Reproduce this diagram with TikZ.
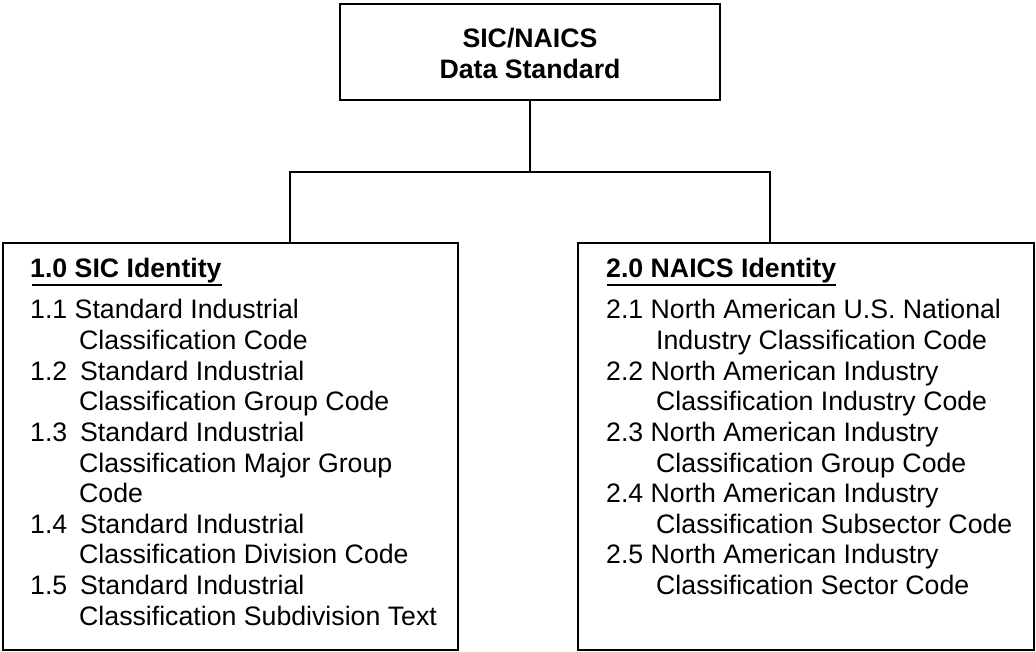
\documentclass[tikz,border=0pt]{standalone}
\usepackage{fontspec}
\setmainfont{Liberation Sans}
\begin{document}
\begin{tikzpicture}[x=1pt,y=-1pt,
  frame/.style={draw=black,line width=1.6pt,inner sep=0pt},
  wire/.style={draw=black,line width=1.6pt},
  txt/.style={anchor=base west,inner sep=0pt,font=\fontsize{26.7}{30.6}\selectfont},
  head/.style={txt,font=\fontsize{26.7}{30.6}\selectfont\bfseries},
  rule/.style={draw=black,line width=2.4pt}]
\useasboundingbox (0,0) rectangle (1036,652);

% boxes
\node[frame,minimum width=380pt,minimum height=96pt] (top) at (530,52) {};
\node[frame,minimum width=455pt,minimum height=407pt] (left) at (230.5,446.5) {};
\node[frame,minimum width=456pt,minimum height=407pt] (right) at (806,446.5) {};

% tree connectors
\coordinate (j)  at (530,172);
\coordinate (jl) at (290,172);
\coordinate (jr) at (770,172);
\draw[wire] (top.south) -- (j);
\draw[wire] (jl |- left.north) -- (jl) -- (jr) -- (jr |- right.north);

% root title
\node[head,anchor=base] (t1) at (530,48) {SIC/NAICS};
\node[head,anchor=base] (t2) at (530,79) {Data Standard};

% SIC column
\newcommand{\num}[1]{\makebox[50pt][l]{#1}}
\node[head] (sh) at (30,278) {1.0 SIC Identity};
\draw[rule] ([xshift=2pt,yshift=-7pt]sh.base west) -- ([yshift=-7pt]sh.base east);
\node[txt] (s1a) at (30,319)   {1.1 Standard Industrial};
\node[txt] (s1b) at (79,349.6) {Classification Code};
\node[txt] (s2a) at (30,380.2) {\num{1.2}Standard Industrial};
\node[txt] (s2b) at (79,410.8) {Classification Group Code};
\node[txt] (s3a) at (30,441.4) {\num{1.3}Standard Industrial};
\node[txt] (s3b) at (79,472)   {Classification Major Group};
\node[txt] (s3c) at (79,502.6) {Code};
\node[txt] (s4a) at (30,533.2) {\num{1.4}Standard Industrial};
\node[txt] (s4b) at (79,563.8) {Classification Division Code};
\node[txt] (s5a) at (30,594.4) {\num{1.5}Standard Industrial};
\node[txt] (s5b) at (79,625)   {Classification Subdivision Text};

% NAICS column
\node[head] (nh) at (606,278) {2.0 NAICS Identity};
\draw[rule] ([xshift=1pt,yshift=-7pt]nh.base west) -- ([yshift=-7pt]nh.base east);
\node[txt] (n1a) at (606,319)   {2.1 North American U.S. National};
\node[txt] (n1b) at (656,349.6) {Industry Classification Code};
\node[txt] (n2a) at (606,380.2) {2.2 North American Industry};
\node[txt] (n2b) at (656,410.8) {Classification Industry Code};
\node[txt] (n3a) at (606,441.4) {2.3 North American Industry};
\node[txt] (n3b) at (656,472)   {Classification Group Code};
\node[txt] (n4a) at (606,502.6) {2.4 North American Industry};
\node[txt] (n4b) at (656,533.2) {Classification Subsector Code};
\node[txt] (n5a) at (606,563.8) {2.5 North American Industry};
\node[txt] (n5b) at (656,594.4) {Classification Sector Code};
\end{tikzpicture}
\end{document}
